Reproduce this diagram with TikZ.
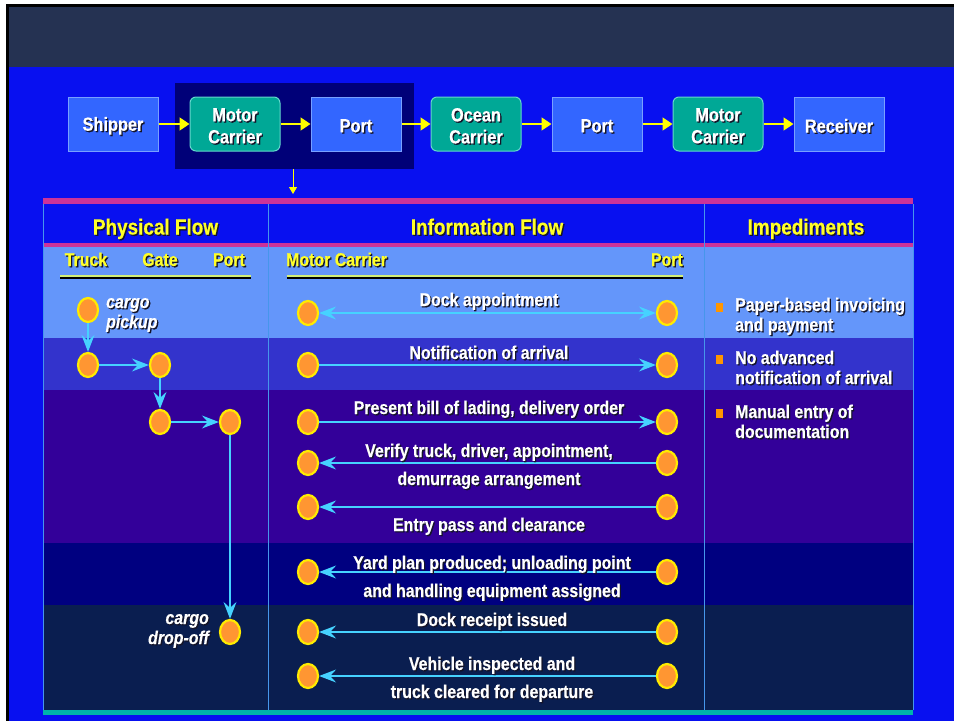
\documentclass[tikz,border=0pt]{standalone}
\usepackage{fontspec}
\setmainfont{Liberation Sans}[FakeStretch=0.86, BoldFeatures={FakeBold=0.4}, BoldItalicFeatures={FakeBold=0.4}]
\usetikzlibrary{shapes.geometric,arrows.meta}
\definecolor{titlec}{RGB}{37,50,82}
\definecolor{bgc}{RGB}{8,16,240}
\definecolor{boxblue}{RGB}{51,102,255}
\definecolor{boxblueb}{RGB}{120,160,255}
\definecolor{tealc}{RGB}{0,168,150}
\definecolor{tealb}{RGB}{100,215,205}
\definecolor{hlc}{RGB}{0,0,120}
\definecolor{mag}{RGB}{204,51,153}
\definecolor{rowa}{RGB}{100,150,250}
\definecolor{rowb}{RGB}{51,51,204}
\definecolor{rowc}{RGB}{51,0,153}
\definecolor{rowd}{RGB}{0,0,128}
\definecolor{rowe}{RGB}{10,30,80}
\definecolor{tealline}{RGB}{0,180,170}
\definecolor{sepc}{RGB}{70,150,235}
\definecolor{dotc}{RGB}{255,150,50}
\definecolor{dotb}{RGB}{255,235,0}
\definecolor{cy}{RGB}{70,210,255}
\definecolor{yel}{RGB}{255,255,0}
\definecolor{hy}{RGB}{255,255,40}
\definecolor{bul}{RGB}{255,150,0}
\definecolor{shd}{RGB}{20,20,40}
\definecolor{ulg}{RGB}{210,240,120}
\newcommand{\ST}[1]{\makebox[0pt][l]{\kern1.3pt\raisebox{-1.3pt}{\textcolor{shd}{#1}}}#1}
\begin{document}
\begin{tikzpicture}[x=1pt,y=-1pt,
  bbox/.style={draw=boxblueb, fill=boxblue, line width=1pt, minimum width=90pt, minimum height=54pt, inner sep=0pt},
  tbox/.style={bbox, rounded corners=6pt, fill=tealc, draw=tealb},
  btxt/.style={text=white, font=\fontsize{19}{22}\selectfont\bfseries, align=center, inner sep=0pt},
  yarr/.style={draw=yel, line width=1.8pt, -{Triangle[length=10pt,width=13pt]}},
  dot/.style={ellipse, draw=dotb, fill=dotc, line width=2.2pt, minimum width=20pt, minimum height=24pt, inner sep=0pt},
  carr/.style={draw=cy, line width=1.4pt, -{Stealth[length=17pt,width=13pt,inset=6pt]}},
  carrb/.style={draw=cy, line width=1.4pt, {Stealth[length=17pt,width=13pt,inset=6pt]}-{Stealth[length=17pt,width=13pt,inset=6pt]}},
  ft/.style={text=white, font=\fontsize{18.5}{22}\selectfont\bfseries, inner sep=0pt, text height=14pt, text depth=2pt},
  fti/.style={ft, font=\fontsize{18.5}{22}\selectfont\bfseries\itshape},
  hdr/.style={text=hy, font=\fontsize{22}{26}\selectfont\bfseries, inner sep=0pt, text height=16pt, text depth=3pt},
  sub/.style={text=hy, font=\fontsize{18.5}{22}\selectfont\bfseries, inner sep=0pt, text height=14pt, text depth=2pt},
  bullet/.style={fill=bul, minimum width=7pt, minimum height=9pt, inner sep=0pt}
]
\useasboundingbox (0,0) rectangle (954,721);
% background
\fill[white] (0,0) rectangle (954,721);
\fill[black] (6,4) rectangle (954,721);
\fill[titlec] (9,7) rectangle (954,67);
\fill[bgc] (9,67) rectangle (954,721);
% highlight box
\node[fill=hlc, minimum width=239pt, minimum height=86pt, inner sep=0pt] (hl) at (294.5,126) {};
% top row
\node[bbox] (ship) at (113,124) {};
\node[tbox] (mc1) at (235,124) {};
\node[bbox] (port1) at (356,124) {};
\node[tbox] (oc) at (476,124) {};
\node[bbox] (port2) at (597,124) {};
\node[tbox] (mc2) at (718,124) {};
\node[bbox] (recv) at (839,124) {};
\node[btxt] (ship-t) at ([yshift=-2.5pt]ship.center) {\ST{Shipper}};
\node[btxt] (mc1-t) at ([yshift=-2.5pt]mc1.center) {\ST{Motor}\\\ST{Carrier}};
\node[btxt] (port1-t) at ([yshift=-2.5pt]port1.center) {\ST{Port}};
\node[btxt] (oc-t) at ([yshift=-2.5pt]oc.center) {\ST{Ocean}\\\ST{Carrier}};
\node[btxt] (port2-t) at ([yshift=-2.5pt]port2.center) {\ST{Port}};
\node[btxt] (mc2-t) at ([yshift=-2.5pt]mc2.center) {\ST{Motor}\\\ST{Carrier}};
\node[btxt] (recv-t) at ([yshift=-2.5pt]recv.center) {\ST{Receiver}};
\draw[yarr] (ship) -- (mc1);
\draw[yarr] (mc1) -- (port1);
\draw[yarr] (port1) -- (oc);
\draw[yarr] (oc) -- (port2);
\draw[yarr] (port2) -- (mc2);
\draw[yarr] (mc2) -- (recv);
\coordinate (dstart) at (293,169);
\coordinate (dend) at (293,194);
\draw[draw=yel, line width=1pt, -{Triangle[length=7pt,width=8pt]}] (dstart) -- (dend);
% table rows
\fill[rowa] (43,247) rectangle (913,338);
\fill[rowb] (43,338) rectangle (913,390);
\fill[rowc] (43,390) rectangle (913,543);
\fill[rowd] (43,543) rectangle (913,605);
\fill[rowe] (43,605) rectangle (913,710);
\fill[mag] (43,198) rectangle (913,204);
\fill[mag] (43,242.5) rectangle (913,247);
\draw[sepc, line width=1pt] (43,204) -- (43,710);
\draw[sepc, line width=1pt] (268,204) -- (268,710);
\draw[sepc, line width=1pt] (704,204) -- (704,710);
\draw[sepc, line width=1pt] (913,204) -- (913,710);
\fill[tealline] (43,710) rectangle (913,715);
% headers
\node[hdr] (h1) at (155.5,228) {\ST{Physical Flow}};
\node[hdr] (h2) at (487,228) {\ST{Information Flow}};
\node[hdr] (h3) at (806,228) {\ST{Impediments}};
% sub headers
\node[sub] (s1) at (86,260) {\ST{Truck}};
\node[sub] (s2) at (160,260) {\ST{Gate}};
\node[sub] (s3) at (229,260) {\ST{Port}};
\node[sub, anchor=west] (s4) at (286,260) {\ST{Motor Carrier}};
\node[sub, anchor=east] (s5) at (683,260) {\ST{Port}};
\draw[ulg, line width=1.2pt] (60,276) -- (251,276);
\draw[black, line width=1.6pt] (60,277.8) -- (251,277.8);
\draw[ulg, line width=1.2pt] (287,276) -- (683,276);
\draw[black, line width=1.6pt] (287,277.8) -- (683,277.8);
% physical flow
\node[dot] (p1) at (88,310) {};
\node[dot] (p2) at (88,365) {};
\node[dot] (p3) at (160,365) {};
\node[dot] (p4) at (160,422) {};
\node[dot] (p5) at (230,422) {};
\node[dot] (p6) at (230,632) {};
\draw[carr] (p1) -- (p2);
\draw[carr] (p2) -- (p3);
\draw[carr] (p3) -- (p4);
\draw[carr] (p4) -- (p5);
\draw[carr] (p5) -- (p6);
\node[fti, anchor=west] (cp1) at (106,302) {\ST{cargo}};
\node[fti, anchor=west] (cp2) at (106,322) {\ST{pickup}};
\node[fti, anchor=east] (cd1) at (209,618) {\ST{cargo}};
\node[fti, anchor=east] (cd2) at (209,638) {\ST{drop-off}};
% information flow circles
\foreach \i/\y in {1/313,2/365,3/422,4/463,5/507,6/572,7/632,8/676}{
  \node[dot] (l\i) at (308,\y) {};
  \node[dot] (r\i) at (667,\y) {};
}
\draw[carrb] (l1) -- (r1);
\draw[carr] (l2) -- (r2);
\draw[carr] (l3) -- (r3);
\draw[carr] (r4) -- (l4);
\draw[carr] (r5) -- (l5);
\draw[carr] (r6) -- (l6);
\draw[carr] (r7) -- (l7);
\draw[carr] (r8) -- (l8);
\node[ft] (t1) at (489,300) {\ST{Dock appointment}};
\node[ft] (t2) at (489,353) {\ST{Notification of arrival}};
\node[ft] (t3) at (489,408) {\ST{Present bill of lading, delivery order}};
\node[ft] (t4a) at (489,451) {\ST{Verify truck, driver, appointment,}};
\node[ft] (t4b) at (489,479) {\ST{demurrage arrangement}};
\node[ft] (t5) at (489,525) {\ST{Entry pass and clearance}};
\node[ft] (t6a) at (492,563) {\ST{Yard plan produced; unloading point}};
\node[ft] (t6b) at (492,591) {\ST{and handling equipment assigned}};
\node[ft] (t7) at (492,620) {\ST{Dock receipt issued}};
\node[ft] (t8a) at (492,664) {\ST{Vehicle inspected and}};
\node[ft] (t8b) at (492,692) {\ST{truck cleared for departure}};
% impediments
\node[bullet] (b1) at (719.5,307) {};
\node[ft, anchor=west] (i1a) at (735,305) {\ST{Paper-based invoicing}};
\node[ft, anchor=west] (i1b) at (735,325) {\ST{and payment}};
\node[bullet] (b2) at (719.5,359) {};
\node[ft, anchor=west] (i2a) at (735,358) {\ST{No advanced}};
\node[ft, anchor=west] (i2b) at (735,378) {\ST{notification of arrival}};
\node[bullet] (b3) at (719.5,413) {};
\node[ft, anchor=west] (i3a) at (735,412) {\ST{Manual entry of}};
\node[ft, anchor=west] (i3b) at (735,432) {\ST{documentation}};
\end{tikzpicture}
\end{document}
